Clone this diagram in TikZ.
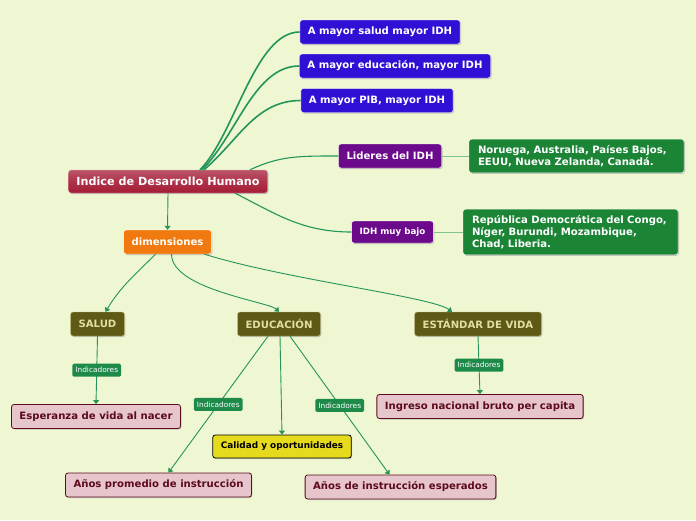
\documentclass[tikz,border=0pt]{standalone}
\usepackage{fontspec}
\setmainfont{DejaVu Sans}
\usetikzlibrary{shadows,arrows.meta}
\definecolor{bg}{HTML}{EEF7D2}
\definecolor{lin}{HTML}{24945A}
\definecolor{linl}{HTML}{7CC48C}
\definecolor{mainred}{HTML}{A51C36}
\definecolor{bluev}{HTML}{3010D4}
\definecolor{purp}{HTML}{6C0A8C}
\definecolor{gbox}{HTML}{1B8535}
\definecolor{orng}{HTML}{F07A10}
\definecolor{olive}{HTML}{5E5A16}
\definecolor{khaki}{HTML}{E2DEA2}
\definecolor{pinkb}{HTML}{E6C6CC}
\definecolor{maroon}{HTML}{5C0A1C}
\definecolor{yel}{HTML}{E6DA1C}
\definecolor{lab}{HTML}{1E8A4A}
\tikzset{
  box/.style={rounded corners=2.5pt, inner xsep=8pt, inner ysep=0pt, minimum height=24pt, font=\bfseries\fontsize{10.1}{12}\selectfont, drop shadow={shadow xshift=1pt,shadow yshift=-1pt,fill=black!35,opacity=.6}},
  mainbox/.style={box, top color=mainred!75, bottom color=mainred, middle color=mainred!90, draw=white!70!mainred, text=white, font=\bfseries\fontsize{11.2}{13}\selectfont, minimum height=23pt},
  bluebox/.style={box, fill=bluev, draw=white, text=white},
  purpbox/.style={box, fill=purp, draw=white, text=white},
  greenbox/.style={box, fill=gbox, draw=white, text=white, align=left, inner xsep=9pt, inner ysep=6pt, font=\bfseries\fontsize{10.1}{12}\selectfont},
  orbox/.style={box, fill=orng, draw=white, text=white},
  olbox/.style={box, fill=olive, draw=khaki!70!olive, text=khaki},
  pkbox/.style={box, fill=pinkb, draw=maroon, text=maroon, thick},
  ybox/.style={box, fill=yel, draw=black, text=black, thick, font=\bfseries\fontsize{8.9}{10}\selectfont, minimum height=23pt},
  lbl/.style={fill=lab, text=white, rounded corners=1.5pt, font=\fontsize{7.4}{8}\selectfont, inner xsep=3pt, inner ysep=0pt, minimum height=13pt},
  con/.style={draw=lin, line width=1.6pt},
  conb/.style={draw=lin, line width=1.1pt},
  arr/.style={draw=lin, line width=0.9pt, -{Triangle[length=4pt,width=6pt]}},
  link/.style={draw=linl, line width=1pt}
}
\begin{document}
\begin{tikzpicture}[x=1pt,y=-1pt]
\fill[bg] (0,0) rectangle (696,520);
\useasboundingbox (0,0) rectangle (696,520);

\node[mainbox] (main) at (168,181.5) {Indice de Desarrollo Humano};
\node[bluebox] (b1) at (380,32) {A mayor salud mayor IDH};
\node[bluebox] (b2) at (395,66) {A mayor educación, mayor IDH};
\node[bluebox] (b3) at (377,100.5) {A mayor PIB, mayor IDH};
\node[purpbox] (lid) at (390,156) {Lideres del IDH};
\node[purpbox, font=\bfseries\fontsize{8.7}{10}\selectfont, minimum height=22pt] (baj) at (392.5,232) {IDH muy bajo};
\node[greenbox, text width=197pt] (g1) at (576.5,156) {Noruega, Australia, Países Bajos,\\EEUU, Nueva Zelanda, Canadá.};
\node[greenbox, text width=197pt] (g2) at (570.5,232) {República Democrática del Congo,\\Níger, Burundi, Mozambique,\\Chad, Liberia.};
\node[orbox] (dim) at (167.5,242) {dimensiones};
\node[olbox] (sal) at (97.5,324) {SALUD};
\node[olbox] (edu) at (279,324) {EDUCACIÓN};
\node[olbox] (est) at (478,324) {ESTÁNDAR DE VIDA};
\node[pkbox] (esp) at (96,416.5) {Esperanza de vida al nacer};
\node[ybox] (cal) at (282,446.5) {Calidad y oportunidades};
\node[pkbox] (apr) at (158.5,485) {Años promedio de instrucción};
\node[pkbox] (aes) at (400.5,487) {Años de instrucción esperados};
\node[pkbox] (ing) at (480,406.5) {Ingreso nacional bruto per capita};

% main branches
\draw[con] ([xshift=32pt]main.north) .. controls +(35,-35) and +(-45,0) .. (b1.west);
\draw[con] ([xshift=34pt]main.north) .. controls +(35,-35) and +(-45,0) .. (b2.west);
\draw[con] ([xshift=36pt]main.north) .. controls +(35,-30) and +(-45,0) .. (b3.west);
\draw[conb] ([xshift=82pt]main.north) .. controls +(30,-14) and +(-40,0) .. (lid.west);
\draw[conb] ([xshift=67pt]main.south) .. controls +(40,20) and +(-50,0) .. (baj.west);
\draw[link] (lid.east) -- (g1.west);
\draw[link] (baj.east) -- (g2.west);
\draw[arr] (main.south) -- (dim.north);

% dimensions
\draw[arr] ([xshift=-12pt]dim.south) .. controls +(-20,20) and +(15,-25) .. ([xshift=8pt]sal.north);
\draw[arr] ([xshift=4pt]dim.south) .. controls +(0,35) and +(-10,-10) .. (edu.north);
\draw[arr] ([xshift=37pt]dim.south) .. controls +(80,25) and +(-20,-15) .. ([xshift=-26pt]est.north);

% indicators
\draw[arr] (sal.south) -- node[lbl, pos=0.5] (l1) {Indicadores} (esp.north);
\draw[arr] ([xshift=-11pt]edu.south) -- node[lbl, pos=0.5] (l2) {Indicadores} ([xshift=10pt]apr.north);
\draw[arr] ([xshift=1pt]edu.south) -- (cal.north);
\draw[arr] ([xshift=11pt]edu.south) -- node[lbl, pos=0.5] (l3) {Indicadores} ([xshift=-11pt]aes.north);
\draw[arr] (est.south) -- node[lbl, pos=0.5] (l4) {Indicadores} (ing.north);
\end{tikzpicture}
\end{document}
